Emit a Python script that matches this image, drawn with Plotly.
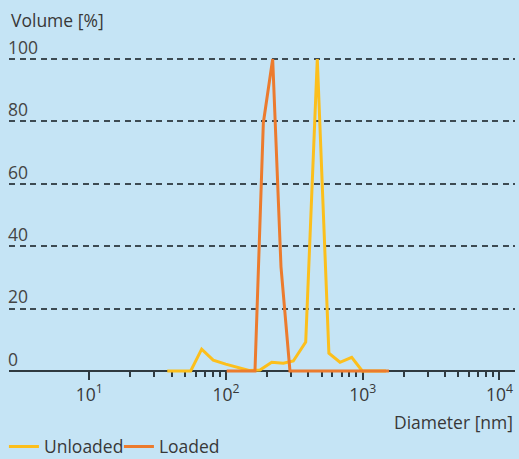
import plotly.graph_objects as go

# ---- data ----
unloaded_d = [37.2, 45.3, 55.2, 66.4, 80.7, 99.5, 121.4, 147.3, 177.3, 216, 262.5,
              310.8, 383, 465.5, 566, 682, 831, 993, 1210, 1480]
unloaded_v = [0, 0, 0, 7.0, 3.5, 2.2, 1.2, 0.2, 0.3, 2.8, 2.5,
              3.2, 9.3, 100, 5.7, 2.8, 4.4, 0, 0, 0]

loaded_d = [101.2, 117.9, 137.4, 163, 187.6, 219.6, 252.6, 293.7, 342, 398, 464,
            540, 629, 733, 853, 994, 1157, 1348, 1556]
loaded_v = [0, 0, 0, 0, 79.5, 100, 33.4, 0, 0, 0, 0,
            0, 0, 0, 0, 0, 0, 0, 0]

x_major = [10, 100, 1000, 10000]
x_major_text = ["10<sup>1</sup>", "10<sup>2</sup>", "10<sup>3</sup>", "10<sup>4</sup>"]
x_minor = [m * 10 ** e for e in (1, 2, 3) for m in range(2, 10)]
y_ticks = [0, 20, 40, 60, 80, 100]

BG = "#c5e4f5"
YELLOW = "#fcbf1c"
ORANGE = "#ec7b2d"
AXIS = "#2f3a40"
GRID = "#3d4a52"
TEXT = "#383838"
FONT = "Open Sans"
FS = 17.5

# plot area in px: x 9..515, y TOP..385 ; y=0 at 371, y=100 at 59
TOP, BOT, ZERO, HUNDRED = 26, 385, 371, 59
ppu = (ZERO - HUNDRED) / 100.0
y_lo = -(BOT - ZERO) / ppu
y_hi = (ZERO - TOP) / ppu
H = BOT - TOP

fig = go.Figure()
fig.add_trace(go.Scatter(x=unloaded_d, y=unloaded_v, mode="lines", name="Unloaded",
                         line=dict(color=YELLOW, width=3)))
fig.add_trace(go.Scatter(x=loaded_d, y=loaded_v, mode="lines", name="Loaded",
                         line=dict(color=ORANGE, width=3)))

fig.update_layout(
    width=519, height=459,
    margin=dict(l=9, r=4, t=TOP, b=459 - BOT, autoexpand=False),
    paper_bgcolor=BG, plot_bgcolor=BG,
    font=dict(family=FONT, size=FS, color=TEXT),
    showlegend=True,
    legend=dict(orientation="h", x=-0.01, xanchor="left", y=-(446.7 - BOT) / H, yanchor="middle",
                bgcolor="rgba(0,0,0,0)", font=dict(size=FS), itemwidth=30,
                entrywidth=70, entrywidthmode="pixels"),
    xaxis=dict(type="log", range=[0.413, 4.114], anchor="free", position=(BOT - ZERO) / H,
               showline=True, linecolor=AXIS, linewidth=1.5,
               ticks="outside", ticklen=8, tickwidth=1.5, tickcolor=AXIS,
               tickvals=x_major, ticktext=x_major_text, tickfont=dict(size=FS),
               showgrid=False, zeroline=False, layer="below traces",
               minor=dict(tickvals=x_minor, ticks="outside", ticklen=5, tickwidth=1.5,
                          tickcolor=AXIS, showgrid=False)),
    yaxis=dict(range=[y_lo, y_hi], tickvals=y_ticks, ticklabelposition="inside top",
               ticklabelstandoff=-4, ticklabelshift=1,
               showgrid=True, gridcolor=GRID, griddash="6px,4.5px", gridwidth=1.5,
               zeroline=False, showline=False, ticks="", layer="below traces",
               tickfont=dict(size=FS)),
    annotations=[
        dict(text="Volume [%]", xref="paper", yref="paper", x=0, y=(BOT - 19.7) / H,
             xanchor="left", yanchor="middle", showarrow=False, font=dict(size=FS)),
        dict(text="Diameter [nm]", xref="paper", yref="paper", x=1.0, y=-(422 - BOT) / H,
             xanchor="right", yanchor="middle", showarrow=False, font=dict(size=FS)),
    ],
)

fig.write_html("out.html", config={"displayModeBar": False},
               post_script="document.body.style.margin='0';")
